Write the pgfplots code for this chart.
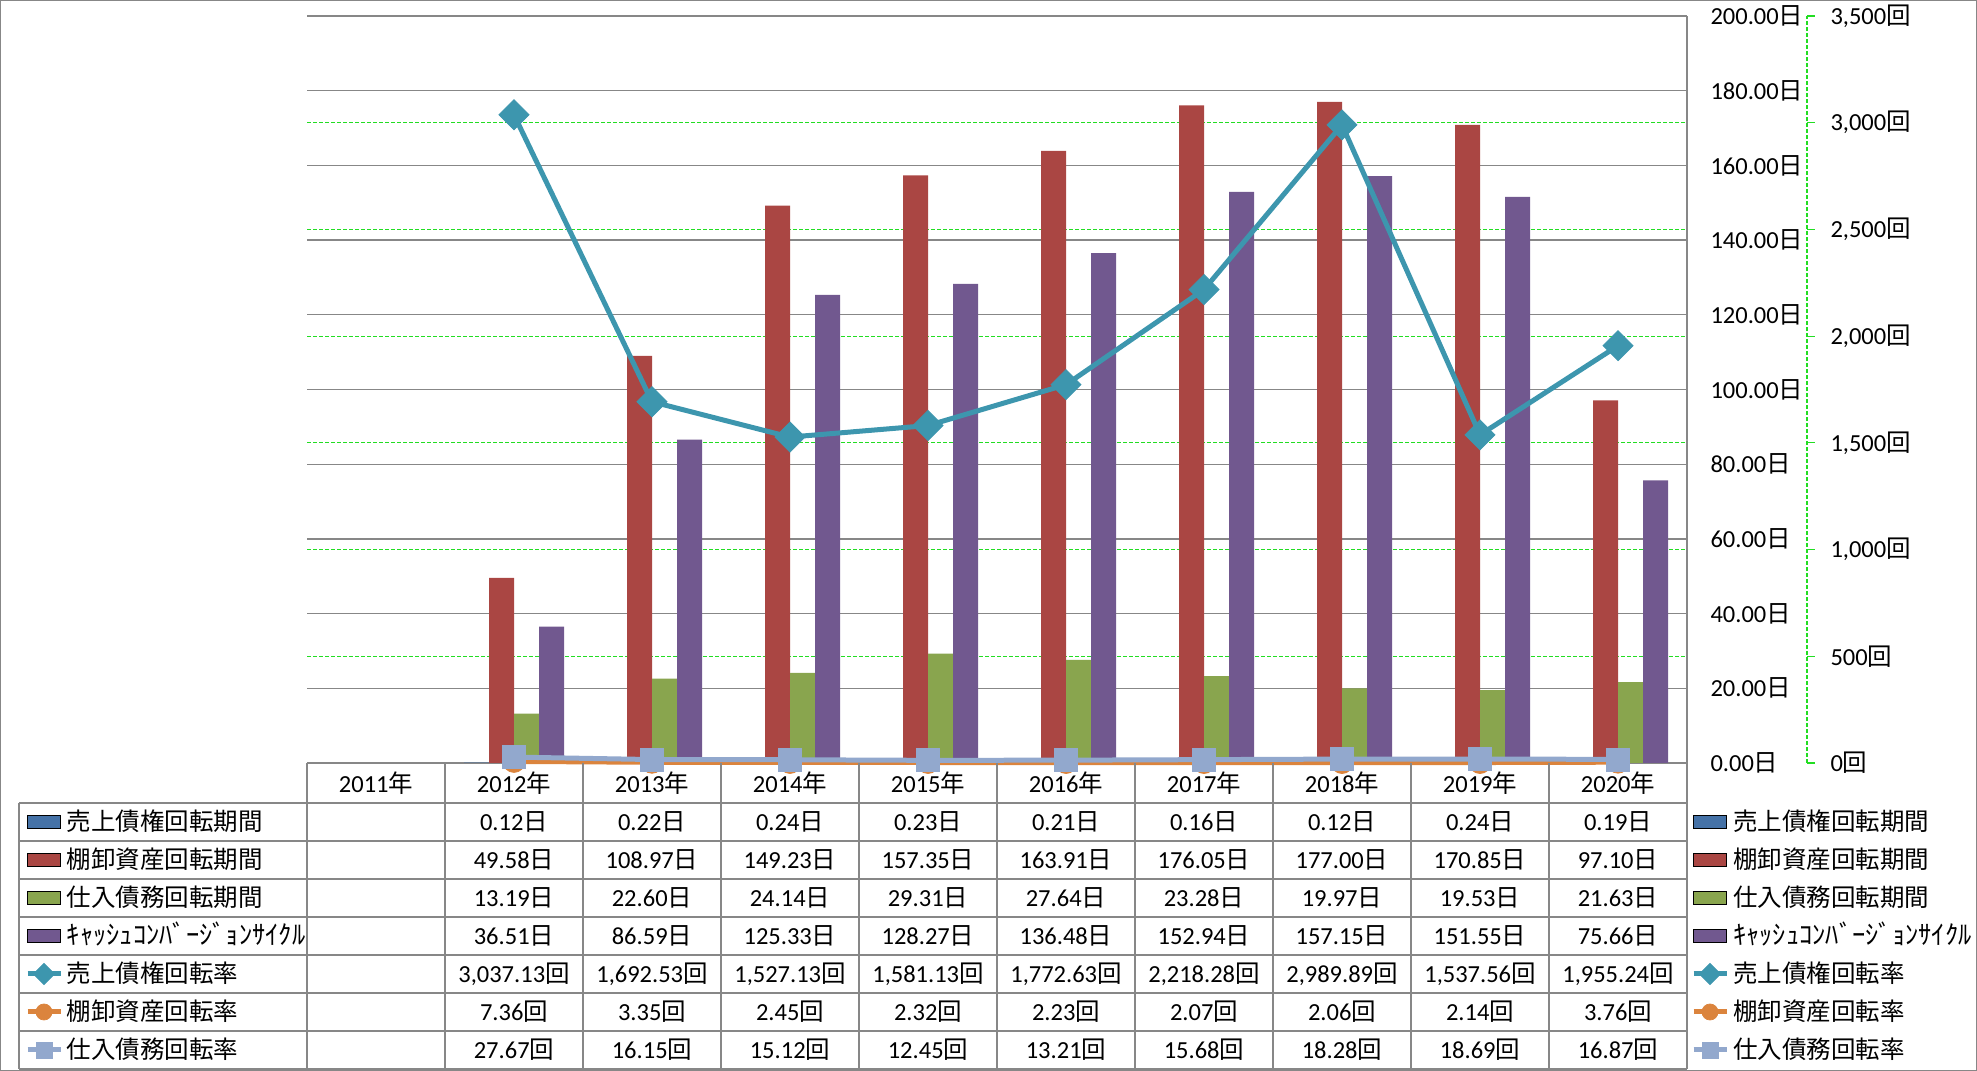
\documentclass[border=0pt]{standalone}
\usepackage{fontspec}
\setmainfont{Carlito}
\newfontfamily\cjk{Noto Sans CJK JP}
\usepackage{pgfplots}
\pgfplotsset{compat=1.18}
\definecolor{cBlue}{HTML}{4572A7}
\definecolor{cRed}{HTML}{AA4643}
\definecolor{cGreen}{HTML}{89A54E}
\definecolor{cPurple}{HTML}{71588F}
\definecolor{cTeal}{HTML}{3D96AE}
\definecolor{cOrange}{HTML}{DB843D}
\definecolor{cLB}{HTML}{92A8CD}
\definecolor{cGrid}{HTML}{878787}
\definecolor{gridgreen}{HTML}{22DD22}
\newcommand\fs{\fontsize{9.8pt}{11pt}\selectfont}
\newcommand\D{{\cjk 日}}
\newcommand\K{{\cjk 回}}
\newcommand\Y{{\cjk 年}}
\newcommand\CCC{{\fontsize{10.6pt}{11pt}\selectfont ｷｬｯｼｭｺﾝﾊﾞｰｼﾞｮﾝｻｲｸﾙ}}
\pgfplotsset{
  common/.style={at={(122.8pt,123.2pt)}, anchor=south west, width=552pt, height=298.8pt,
    scale only axis, xmin=-0.5, xmax=9.5, clip=false, tick style={draw=none}, major tick length=0pt},
  barkey/.style={legend image code/.code={\fill[##1] (0pt,-2.5pt) rectangle (13.2pt,2.5pt);}},
  linekey/.style={legend image code/.code={\draw[##1, mark repeat=2, mark phase=2] plot coordinates {(0pt,0pt) (6.6pt,0pt) (13.2pt,0pt)};}},
  sTeal/.style={color=cTeal, line width=2pt, mark=square*, mark size=4.25pt, mark options={rotate=45, rounded corners=1.2pt, solid, line width=0.3pt, fill=cTeal}},
  sOrange/.style={color=cOrange, line width=2pt, mark=*, mark size=4.4pt, mark options={solid, line width=0.3pt, fill=cOrange}},
  sLB/.style={color=cLB, line width=2pt, mark=square*, mark size=4.6pt, mark options={rounded corners=1.5pt, solid, line width=0.3pt, fill=cLB}},
  allkeys/.code={
    \addlegendimage{barkey, fill=cBlue}
    \addlegendimage{barkey, fill=cRed}
    \addlegendimage{barkey, fill=cGreen}
    \addlegendimage{barkey, fill=cPurple}
    \addlegendimage{linekey, sTeal, mark size=3pt}
    \addlegendimage{linekey, sOrange, mark size=3.2pt}
    \addlegendimage{linekey, sLB, mark size=3.2pt}
  },
  legstyle/.style={legend cell align=left, legend style={anchor=north west, draw=none, fill=none, inner sep=0pt, outer sep=0pt,
    row sep=0pt, column sep=1.6pt, font=\fs\cjk, nodes={inner sep=0pt, text height=11pt, text depth=4.2pt}}},
}
\newcommand\trow[3]{\foreach \v [count=\i] in {#2} {\node[font=\fs, inner sep=0pt] at ({376+138*\i},{822+38*#1}) {\v#3};}}
\begin{document}
\begin{tikzpicture}
\useasboundingbox (0,0) rectangle (790.8pt,428.4pt);
% secondary grid (behind bars)
\begin{axis}[common, ymin=0, ymax=3500, ytick={500,1000,...,3000}, yticklabels={}, xtick=\empty,
  ymajorgrids, major grid style={gridgreen, line width=0.45pt, dash pattern=on 1.6pt off 0.8pt},
  axis line style={draw=none}]
\addplot[draw=none, forget plot] coordinates {(0,0)};
\end{axis}
% bars, primary axis
\begin{axis}[common, ymin=0, ymax=200, ytick={0,20,...,200},
  ymajorgrids, major grid style={cGrid, line width=0.5pt},
  axis x line*=bottom, axis y line*=right, axis line style={cGrid, line width=0.5pt},
  xtick={0,...,9}, xticklabels={2011\Y,2012\Y,2013\Y,2014\Y,2015\Y,2016\Y,2017\Y,2018\Y,2019\Y,2020\Y},
  xticklabel style={font=\fs, anchor=center, yshift=-8pt},
  yticklabel style={font=\fs, anchor=west, xshift=9.2pt, inner sep=0pt},
  yticklabel={\pgfmathprintnumber[fixed,fixed zerofill,precision=2,assume math mode=true]{\tick}\D},
  legstyle, legend style={at={(-0.20435,-0.05355)}}]
\addplot[ybar, bar width=10pt, bar shift=-15pt, fill=cBlue, draw=none, forget plot] coordinates
  {(1,0.12) (2,0.22) (3,0.24) (4,0.23) (5,0.21) (6,0.16) (7,0.12) (8,0.24) (9,0.19)};
\addplot[ybar, bar width=10pt, bar shift=-5pt, fill=cRed, draw=none, forget plot] coordinates
  {(1,49.58) (2,108.97) (3,149.23) (4,157.35) (5,163.91) (6,176.05) (7,177.00) (8,170.85) (9,97.10)};
\addplot[ybar, bar width=10pt, bar shift=5pt, fill=cGreen, draw=none, forget plot] coordinates
  {(1,13.19) (2,22.60) (3,24.14) (4,29.31) (5,27.64) (6,23.28) (7,19.97) (8,19.53) (9,21.63)};
\addplot[ybar, bar width=10pt, bar shift=15pt, fill=cPurple, draw=none, forget plot] coordinates
  {(1,36.51) (2,86.59) (3,125.33) (4,128.27) (5,136.48) (6,152.94) (7,157.15) (8,151.55) (9,75.66)};
\pgfplotsset{allkeys}
\legend{売上債権回転期間,棚卸資産回転期間,仕入債務回転期間,\CCC,売上債権回転率,棚卸資産回転率,仕入債務回転率}
\end{axis}
% lines, secondary axis
\begin{axis}[common, ymin=0, ymax=3500, ytick={0,500,...,3500}, xtick=\empty,
  axis line style={draw=none}, yticklabel pos=right,
  yticklabel style={font=\fs, anchor=west, xshift=57.2pt, inner sep=0pt},
  yticklabel={\pgfmathprintnumber[fixed,precision=0,1000 sep={,},assume math mode=true]{\tick}\K},
  legstyle, legend style={at={(1.0029,-0.05355)}}]
\addplot[sTeal, forget plot] coordinates
  {(1,3037.13) (2,1692.53) (3,1527.13) (4,1581.13) (5,1772.63) (6,2218.28) (7,2989.89) (8,1537.56) (9,1955.24)};
\addplot[sOrange, forget plot] coordinates
  {(1,7.36) (2,3.35) (3,2.45) (4,2.32) (5,2.23) (6,2.07) (7,2.06) (8,2.14) (9,3.76)};
\addplot[sLB, forget plot] coordinates
  {(1,27.67) (2,16.15) (3,15.12) (4,12.45) (5,13.21) (6,15.68) (7,18.28) (8,18.69) (9,16.87)};
\draw[gridgreen, line width=0.45pt, dash pattern=on 1.6pt off 0.8pt] ([xshift=48pt]rel axis cs:1,0) -- ([xshift=48pt]rel axis cs:1,1);
\pgfplotsinvokeforeach{0,500,...,3500}{\draw[gridgreen, line width=0.45pt] ([xshift=48pt]axis cs:9.5,#1) -- ++(3.2pt,0pt);}
\pgfplotsset{allkeys}
\legend{売上債権回転期間,棚卸資産回転期間,仕入債務回転期間,\CCC,売上債権回転率,棚卸資産回転率,仕入債務回転率}
\end{axis}
% frame and data table
\draw[cGrid, line width=0.5pt] (0.25pt,0.25pt) rectangle (790.55pt,428.15pt);
\begin{scope}[x=0.4pt, y=-0.4pt, shift={(0pt,428.4pt)}]
\foreach \y in {803,841,879,917,955,993,1031,1069} {\draw[cGrid, line width=0.5pt] (19,\y) -- (1687,\y);}
\draw[cGrid, line width=0.5pt] (19,803) -- (19,1069);
\foreach \k in {0,...,10} {\draw[cGrid, line width=0.5pt] ({307+138*\k},763) -- ({307+138*\k},1069);}
\trow{0}{0.12,0.22,0.24,0.23,0.21,0.16,0.12,0.24,0.19}{\D}
\trow{1}{49.58,108.97,149.23,157.35,163.91,176.05,177.00,170.85,97.10}{\D}
\trow{2}{13.19,22.60,24.14,29.31,27.64,23.28,19.97,19.53,21.63}{\D}
\trow{3}{36.51,86.59,125.33,128.27,136.48,152.94,157.15,151.55,75.66}{\D}
\trow{4}{{3,037.13},{1,692.53},{1,527.13},{1,581.13},{1,772.63},{2,218.28},{2,989.89},{1,537.56},{1,955.24}}{\K}
\trow{5}{7.36,3.35,2.45,2.32,2.23,2.07,2.06,2.14,3.76}{\K}
\trow{6}{27.67,16.15,15.12,12.45,13.21,15.68,18.28,18.69,16.87}{\K}
\end{scope}
\end{tikzpicture}
\end{document}
